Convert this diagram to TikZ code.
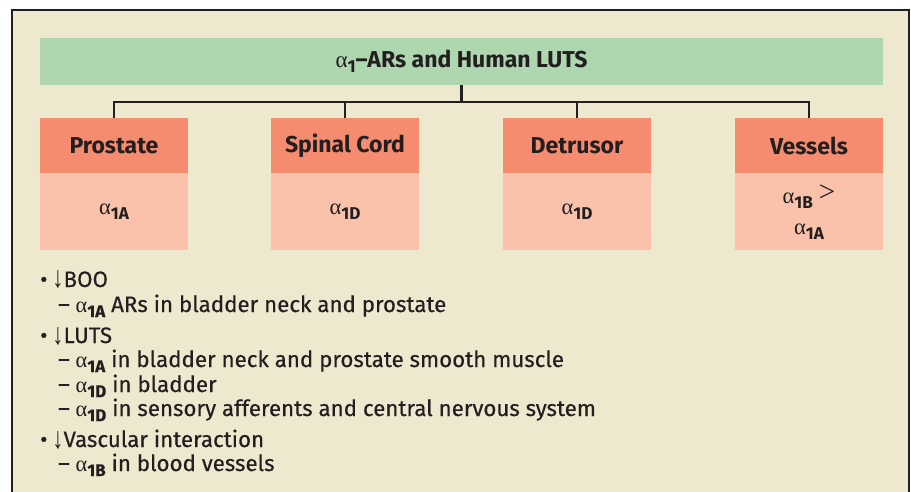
\documentclass[tikz,border=0pt]{standalone}
\usepackage{graphicx}
\usepackage{fontspec}
\setmainfont{Fira Sans}
\newfontfamily\grk{Liberation Serif}
\usepackage{tikz}
\usetikzlibrary{positioning}

\definecolor{cream}{HTML}{EEE8CE}
\definecolor{leaf}{HTML}{AED6AF}
\definecolor{coral}{HTML}{F58C6F}
\definecolor{salmon}{HTML}{FAC2AB}
\definecolor{ink}{HTML}{231F20}

\newcommand{\asub}[1]{{\grk\mdseries α}\raisebox{-0.23em}{\scalebox{0.76}{\bfseries #1}}}
\newcommand{\itemdot}{\textbullet\hspace{5pt}\raisebox{-1pt}{\scalebox{1}[1.35]{\grk\mdseries ↓}}}
\newcommand{\gtr}{\raisebox{2pt}{\scalebox{1.3}{\grk >}}}

\begin{document}
\begin{tikzpicture}[x=1pt, y=-1pt,
        title/.style={rectangle, fill=leaf, minimum width=843pt, minimum height=47pt, inner sep=0pt, font=\fontsize{23}{26}\selectfont\bfseries, text=ink},
        head/.style={rectangle, fill=coral, minimum width=148pt, minimum height=55pt, inner sep=0pt, font=\fontsize{23}{26}\selectfont\bfseries, text=ink},
        body/.style={rectangle, fill=salmon, minimum width=148pt, minimum height=77pt, inner sep=0pt, font=\fontsize{22.5}{31}\selectfont, text=ink, align=center},
        item/.style={anchor=base west, inner sep=0pt, font=\fontsize{22.3}{24}\selectfont\addfontfeature{FakeBold=0.4}, text=ink},
        link/.style={draw=ink, line width=2.2pt}]

        \useasboundingbox (0,0) rectangle (911,492);
        \fill[white] (0,0) rectangle (911,492);

        % Frame
        \fill[cream] (12,10) rectangle (909,500);
        \draw[ink, line width=2.5pt] (12,500) -- (12,10) -- (909,10) -- (909,500);

        % Title
        \node[title] (title) at (461.5, 61.5) {\asub{1}--ARs and Human LUTS};

        % Boxes
        \node[head] (prost) at (114, 145.5) {Prostate};
        \node[head] (spine) at (345, 145.5) {Spinal Cord};
        \node[head] (detr) at (577, 145.5) {Detrusor};
        \node[head] (vess) at (809, 145.5) {Vessels};

        \node[body, below=0pt of prost] (prostsub) {\asub{1A}};
        \node[body, below=0pt of spine] (spinesub) {\asub{1D}};
        \node[body, below=0pt of detr] (detrsub) {\asub{1D}};
        \node[body, below=0pt of vess] (vesssub) {\asub{1B} \gtr\\\asub{1A}};

        % Tree
        \coordinate (hub) at (461.5, 102);
        \draw[link] (title.south) -- (hub);
        \foreach \b in {prost, spine, detr, vess}
            \draw[link] (hub) -| (\b.north);

        % Effects
        \node[item] (boo) at (40, 287) {\itemdot BOO};
        \node[item] (boo1) at (58, 312) {– \asub{1A} ARs in bladder neck and prostate};
        \node[item] (luts) at (40, 343) {\itemdot LUTS};
        \node[item] (luts1) at (58, 367) {– \asub{1A} in bladder neck and prostate smooth muscle};
        \node[item] (luts2) at (58, 392) {– \asub{1D} in bladder};
        \node[item] (luts3) at (58, 416) {– \asub{1D} in sensory afferents and central nervous system};
        \node[item] (vasc) at (40, 447) {\itemdot Vascular interaction};
        \node[item] (vasc1) at (58, 471) {– \asub{1B} in blood vessels};

    \end{tikzpicture}
\end{document}
